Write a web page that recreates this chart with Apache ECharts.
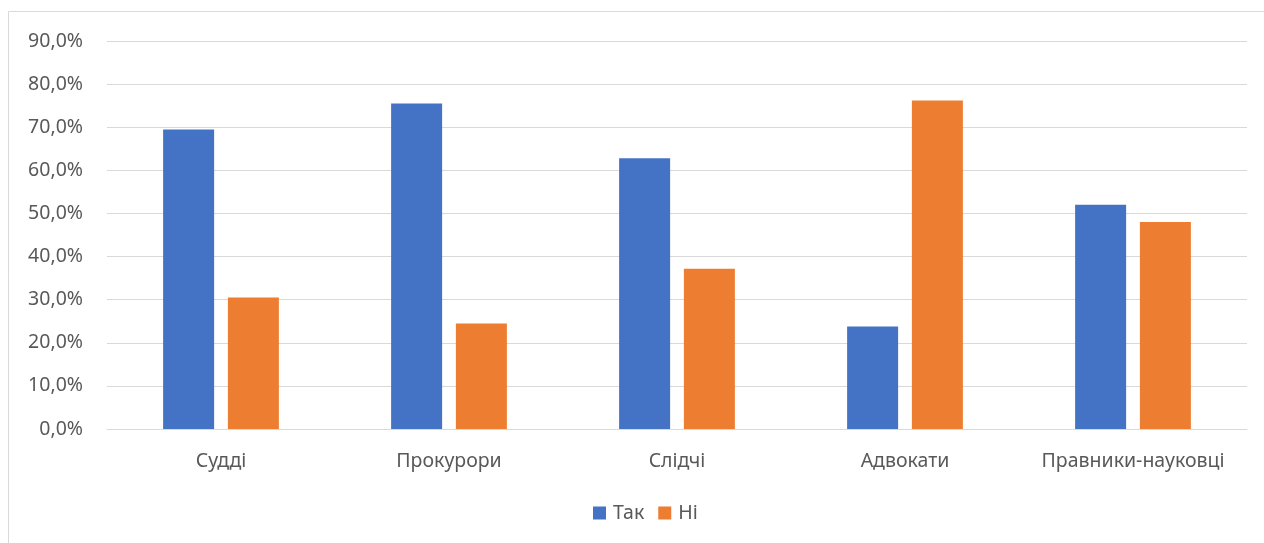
<!DOCTYPE html>
<html><head><meta charset="utf-8">
<script src="https://cdn.jsdelivr.net/npm/echarts@6/dist/echarts.min.js"></script>
<style>html,body{margin:0;padding:0;background:#fff}#c{width:1264px;height:543px}</style>
</head><body><div id="c"></div>
<script>
const categories = ['Судді','Прокурори','Слідчі','Адвокати','Правники-науковці'];
const seriesNames = ['Так','Ні'];
const yesValues = [69.5, 75.5, 62.8, 23.8, 52.0];
const noValues = [30.5, 24.5, 37.2, 76.2, 48.0];
const colors = ['#4472c4', '#ed7d31'];
const font = 'Noto Sans';
const chart = echarts.init(document.getElementById('c'));
chart.setOption({
  animation: false,
  textStyle: {fontFamily: font},
  graphic: [{type:'rect', shape:{x:8.5,y:11.5,width:1400,height:700}, style:{fill:'none', stroke:'#d9d9d9', lineWidth:1}, silent:true}],
  grid: {left:107, right:17, top:41, bottom:114, containLabel:false},
  legend: {bottom: 20, left: 593, padding: 0, itemWidth:13, itemHeight:13, itemGap:14, icon:'rect',
    textStyle:{fontSize:19.5, color:'#595959', fontFamily:font, padding:[0,0,0,2]}, data: seriesNames},
  xAxis: {type:'category', data: categories,
    axisLine:{lineStyle:{color:'#d9d9d9', width:1}}, axisTick:{show:false},
    axisLabel:{color:'#595959', fontSize:19.5, margin:22, interval:0, hideOverlap:false, fontFamily:font}},
  yAxis: {type:'value', min:0, max:90, interval:10,
    axisLine:{show:false}, axisTick:{show:false},
    splitLine:{lineStyle:{color:'#d9d9d9', width:1}},
    axisLabel:{color:'#595959', fontSize:19.5, margin:24, fontFamily:font,
      formatter: v => v.toFixed(1).replace('.', ',') + '%'}},
  series: [
    {name: seriesNames[0], type:'bar', data: yesValues, barWidth:51, barGap:'27%', itemStyle:{color:colors[0]}},
    {name: seriesNames[1], type:'bar', data: noValues, barWidth:51, itemStyle:{color:colors[1]}}
  ]
});
</script></body></html>
